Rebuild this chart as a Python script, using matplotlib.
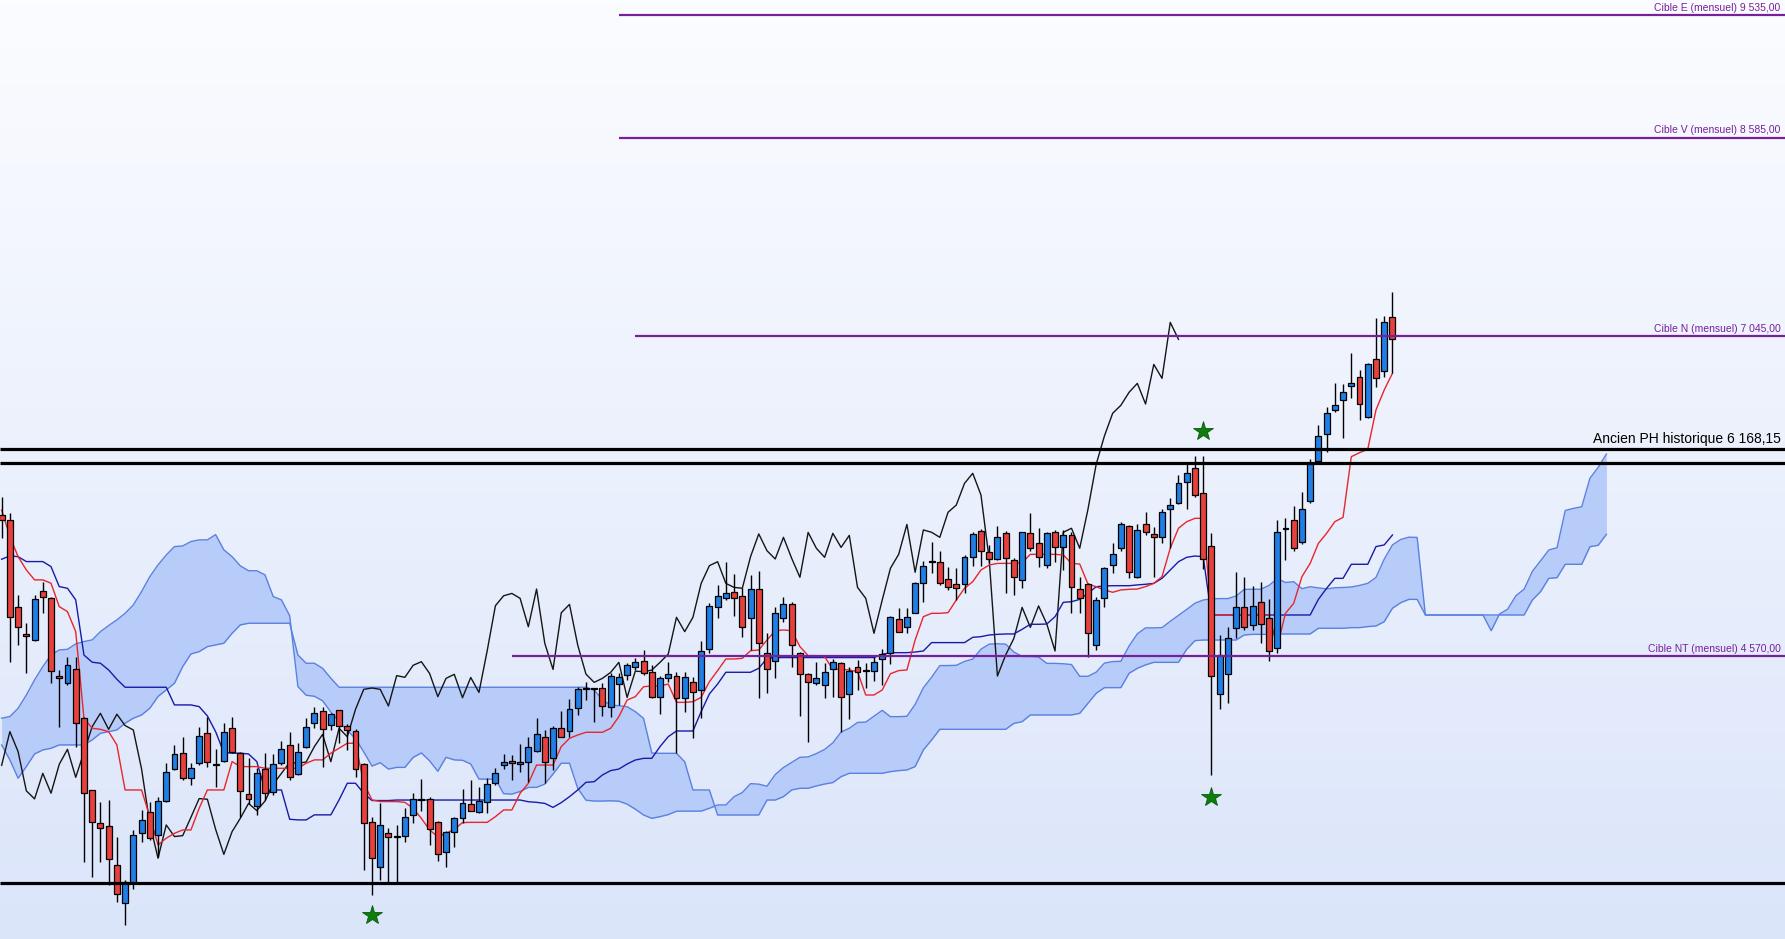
import numpy as np
import matplotlib.pyplot as plt
from matplotlib import font_manager
from matplotlib.colors import LinearSegmentedColormap

# bougies (open, high, low, close), une par periode
opens = [5660, 5622, 4950, 4738, 4692, 5071, 5020, 4415, 4356, 4464,
         4085, 3529, 3276, 3253, 2948, 2651, 2806, 3194, 3356, 3181,
         3444, 3692, 3813, 3620, 3736, 3968, 3728, 3754, 4007, 3819,
         3498, 3405, 3689, 3516, 3736, 3878, 3653, 3865, 4051, 4139,
         4033, 4147, 4028, 3989, 3728, 3284, 2935, 3199, 3168, 3172,
         3332, 3452, 3456, 3278, 3046, 3206, 3309, 3418, 3361, 3433,
         3586, 3720, 3753, 3728, 3743, 3833, 3942, 3774, 4007, 3988,
         4162, 4309, 4316, 4316, 4175, 4350, 4420, 4479, 4530, 4445,
         4246, 4394, 4412, 4239, 4363, 4303, 4618, 4944, 5014, 5065,
         5034, 4859, 5083, 4592, 4528, 4858, 4967, 4592, 4425, 4355,
         4342, 4466, 4510, 4270, 4479, 4453, 4453, 4541, 4593, 4851,
         4794, 4903, 5135, 5293, 5298, 5161, 5123, 5123, 5337, 5536,
         5376, 5319, 5518, 5311, 5156, 5518, 5445, 5272, 5526, 5409,
         5502, 5084, 5125, 4652, 5014, 5272, 5402, 5575, 5177, 5588,
         5510, 5487, 5704, 5750, 5913, 6022, 5828, 5422, 4270, 4428,
         4782, 4944, 4808, 4983, 4859, 4627, 5549, 5621, 5448, 5771,
         6078, 6285, 6474, 6551, 6660, 6732, 6422, 6866, 6776, 7192]
highs = [5802, 5673, 5040, 4821, 5040, 5144, 5027, 4459, 4563, 4563,
         4098, 3529, 3439, 3452, 3168, 2832, 3219, 3374, 3439, 3478,
         3736, 3878, 3937, 3736, 4020, 4098, 3847, 4046, 4098, 3826,
         3775, 3697, 3813, 3808, 3909, 3976, 3891, 4090, 4175, 4175,
         4124, 4150, 4041, 3999, 3736, 3323, 3426, 3232, 3258, 3387,
         3503, 3614, 3472, 3291, 3214, 3322, 3534, 3606, 3555, 3619,
         3697, 3808, 3800, 3885, 3937, 4084, 3994, 4025, 4143, 4231,
         4329, 4368, 4316, 4355, 4433, 4433, 4510, 4549, 4613, 4497,
         4414, 4518, 4440, 4440, 4406, 4685, 4975, 5117, 5292, 5199,
         5091, 5194, 5225, 4742, 4949, 5021, 4988, 4600, 4432, 4523,
         4510, 4541, 4523, 4484, 4536, 4510, 4561, 4618, 4880, 4937,
         4937, 5143, 5303, 5453, 5383, 5259, 5247, 5350, 5531, 5549,
         5427, 5575, 5538, 5329, 5531, 5673, 5562, 5526, 5544, 5544,
         5531, 5177, 5130, 5027, 5259, 5445, 5608, 5582, 5590, 5686,
         5570, 5704, 5789, 5970, 6053, 6117, 6117, 5518, 4730, 4789,
         5221, 5182, 5110, 5143, 5009, 5621, 5634, 5730, 5841, 6094,
         6357, 6494, 6685, 6673, 6913, 6784, 6835, 7184, 7202, 7385]
lows = [5480, 4524, 4653, 4433, 4680, 4903, 4356, 4020, 4343, 3865,
        2974, 2858, 2974, 2793, 2659, 2483, 2760, 3129, 3142, 3013,
        3439, 3684, 3607, 3568, 3723, 3710, 3555, 3749, 3813, 3323,
        3421, 3336, 3452, 3491, 3723, 3607, 3645, 3852, 4007, 3710,
        3994, 3891, 3839, 3633, 2909, 2716, 2832, 2806, 2806, 3128,
        3270, 3369, 3103, 2981, 2935, 3084, 3270, 3369, 3348, 3348,
        3567, 3691, 3606, 3671, 3593, 3821, 3586, 3684, 3942, 3937,
        4110, 4226, 4058, 4102, 4092, 4187, 4381, 4459, 4419, 4239,
        4117, 4368, 3812, 4130, 3934, 4084, 4587, 4864, 5001, 4877,
        4716, 4613, 4239, 4283, 4394, 4833, 4484, 4102, 3903, 4342,
        4239, 4252, 3980, 4076, 4303, 4316, 4375, 4342, 4505, 4756,
        4743, 4898, 4988, 5208, 5117, 5079, 5001, 5058, 5265, 5265,
        5285, 5311, 5058, 5040, 5097, 5383, 5254, 5247, 5298, 5234,
        4903, 4903, 4562, 4614, 4949, 5208, 5383, 5169, 5169, 5505,
        5177, 5446, 5402, 5745, 5704, 5802, 5239, 3645, 4154, 4206,
        4704, 4769, 4769, 4671, 4529, 4593, 5311, 5384, 5435, 5756,
        6066, 6151, 6461, 6254, 6564, 6396, 6414, 6654, 6732, 6763]
closes = [5622, 4872, 4795, 4723, 5009, 5022, 4451, 4400, 4498, 4046,
          3504, 3284, 3232, 2992, 2721, 2819, 3181, 3297, 3155, 3444,
          3666, 3808, 3620, 3697, 3948, 3749, 3720, 3981, 3826, 3522,
          3460, 3658, 3504, 3728, 3844, 3627, 3821, 4020, 4123, 3999,
          4116, 4028, 3994, 3692, 3271, 3000, 3258, 3168, 3175, 3317,
          3462, 3457, 3224, 3030, 3206, 3309, 3425, 3369, 3443, 3573,
          3658, 3743, 3735, 3746, 3865, 3960, 3748, 4007, 3942, 4154,
          4309, 4319, 4309, 4180, 4415, 4402, 4495, 4523, 4432, 4252,
          4394, 4425, 4244, 4401, 4285, 4608, 4957, 5034, 5052, 5014,
          4794, 5086, 4665, 4463, 4902, 4967, 4652, 4427, 4363, 4394,
          4440, 4518, 4246, 4450, 4445, 4458, 4518, 4582, 4867, 4756,
          4867, 5130, 5267, 5298, 5130, 5099, 5092, 5337, 5513, 5383,
          5319, 5487, 5324, 5177, 5525, 5402, 5332, 5518, 5409, 5502,
          5099, 5014, 4743, 5001, 5247, 5355, 5587, 5216, 5544, 5526,
          5487, 5681, 5737, 5905, 5983, 5815, 5316, 4412, 4575, 4704,
          4944, 4789, 4955, 4815, 4606, 5526, 5557, 5402, 5704, 6053,
          6272, 6448, 6510, 6611, 6680, 6520, 6827, 6719, 7153, 7021]

# ichimoku
tenkan = [5699, 5492, 5337, 5234, 5157, 5157, 5131, 4950, 4911, 4756,
          4085, 4007, 3999, 3981, 3878, 3529, 3529, 3529, 3323, 3103,
          3155, 3193, 3219, 3219, 3387, 3529, 3529, 3529, 3749, 3710,
          3710, 3710, 3697, 3697, 3697, 3697, 3697, 3736, 3762, 3762,
          3814, 3852, 3891, 3891, 3581, 3452, 3439, 3439, 3439, 3433,
          3387, 3309, 3219, 3167, 3193, 3224, 3276, 3278, 3278, 3278,
          3322, 3374, 3374, 3503, 3580, 3722, 3722, 3722, 3865, 3929,
          3955, 3976, 3976, 3976, 4007, 4097, 4226, 4252, 4329, 4335,
          4335, 4350, 4208, 4208, 4213, 4247, 4368, 4454, 4544, 4544,
          4549, 4608, 4614, 4691, 4763, 4769, 4763, 4640, 4570, 4570,
          4562, 4464, 4464, 4459, 4446, 4265, 4265, 4304, 4430, 4454,
          4459, 4691, 4872, 4898, 4898, 4903, 5001, 5092, 5143, 5234,
          5272, 5285, 5285, 5285, 5290, 5355, 5355, 5355, 5355, 5350,
          5285, 5280, 5125, 5104, 5079, 5061, 5079, 5084, 5086, 5105,
          5130, 5182, 5402, 5557, 5608, 5634, 5634, 4885, 4885, 4885,
          4885, 4885, 4885, 4885, 4885, 4640, 4898, 4975, 5182, 5285,
          5440, 5518, 5608, 5642, 6112, 6143, 6169, 6474, 6629, 6758]
kijun = [5317, 5343, 5337, 5299, 5299, 5299, 5260, 5105, 5092, 5002,
         4575, 4519, 4511, 4459, 4387, 4325, 4325, 4325, 4325, 4325,
         4325, 4188, 4188, 4188, 4175, 4103, 3981, 3819, 3814, 3814,
         3808, 3749, 3529, 3529, 3529, 3302, 3297, 3297, 3336, 3336,
         3336, 3452, 3581, 3581, 3503, 3447, 3447, 3447, 3451, 3451,
         3451, 3451, 3451, 3451, 3451, 3451, 3451, 3451, 3451, 3451,
         3451, 3451, 3451, 3451, 3438, 3433, 3425, 3394, 3431, 3477,
         3529, 3588, 3593, 3645, 3679, 3691, 3730, 3761, 3774, 3774,
         3865, 3942, 3986, 3986, 3986, 4136, 4273, 4350, 4441, 4441,
         4441, 4441, 4472, 4549, 4555, 4555, 4555, 4555, 4555, 4555,
         4555, 4555, 4555, 4555, 4555, 4555, 4555, 4580, 4593, 4593,
         4593, 4598, 4606, 4671, 4671, 4671, 4671, 4671, 4712, 4717,
         4730, 4735, 4738, 4738, 4774, 4813, 4813, 4815, 4872, 4983,
         4988, 5006, 5053, 5104, 5110, 5112, 5112, 5112, 5118, 5123,
         5130, 5169, 5234, 5298, 5332, 5342, 5337, 4885, 4885, 4885,
         4885, 4885, 4885, 4885, 4885, 4885, 4885, 4885, 4885, 4885,
         5006, 5092, 5169, 5169, 5278, 5278, 5278, 5415, 5428, 5505]
# nuage : 26 periodes de plus que les bougies
span_a = [4085, 4098, 4162, 4265, 4382, 4485, 4575, 4614, 4619, 4661,
          4679, 4692, 4756, 4803, 4847, 4898, 4963, 5066, 5182, 5273,
          5350, 5415, 5420, 5454, 5467, 5467, 5508, 5390, 5337, 5266,
          5228, 5228, 5196, 5028, 5002, 4879, 4330, 4263, 4255, 4220,
          4133, 4060, 3990, 3927, 3824, 3714, 3740, 3691, 3704, 3704,
          3781, 3816, 3755, 3674, 3782, 3762, 3759, 3730, 3613, 3613,
          3613, 3500, 3497, 3517, 3549, 3549, 3575, 3652, 3736, 3736,
          3542, 3450, 3443, 3443, 3445, 3442, 3419, 3380, 3335, 3309,
          3322, 3338, 3364, 3365, 3365, 3365, 3387, 3413, 3413, 3477,
          3509, 3578, 3574, 3558, 3648, 3703, 3742, 3782, 3785, 3811,
          3843, 3894, 3978, 4007, 4052, 4055, 4100, 4146, 4097, 4097,
          4100, 4192, 4321, 4402, 4493, 4493, 4495, 4525, 4543, 4620,
          4659, 4662, 4659, 4598, 4563, 4563, 4559, 4510, 4510, 4507,
          4501, 4410, 4410, 4442, 4512, 4524, 4526, 4645, 4739, 4785,
          4785, 4787, 4836, 4882, 4928, 4976, 5001, 5010, 5012, 5012,
          5032, 5084, 5084, 5085, 5114, 5167, 5137, 5143, 5089, 5104,
          5095, 5087, 5096, 5098, 5102, 5114, 5130, 5176, 5318, 5428,
          5470, 5488, 5486, 4885, 4885, 4885, 4885, 4885, 4885, 4885,
          4885, 4763, 4892, 4930, 5034, 5085, 5223, 5305, 5389, 5406,
          5695, 5711, 5724, 5945, 6029, 6132]
span_b = [3878, 3762, 3620, 3710, 3808, 3839, 3852, 3878, 3878, 3878,
          3878, 3917, 3968, 3981, 3994, 4046, 4085, 4110, 4162, 4253,
          4304, 4356, 4485, 4583, 4601, 4640, 4653, 4666, 4743, 4808,
          4821, 4821, 4821, 4821, 4821, 4821, 4575, 4511, 4511, 4472,
          4395, 4325, 4325, 4325, 4325, 4325, 4325, 4325, 4325, 4325,
          4325, 4325, 4325, 4325, 4325, 4325, 4325, 4325, 4325, 4325,
          4325, 4325, 4325, 4325, 4325, 4325, 4325, 4325, 4325, 4325,
          4325, 4325, 4304, 4226, 4187, 4182, 4174, 4136, 4084, 3815,
          3813, 3813, 3813, 3748, 3529, 3529, 3529, 3335, 3335, 3335,
          3335, 3335, 3335, 3451, 3451, 3477, 3529, 3542, 3542, 3560,
          3575, 3586, 3632, 3658, 3658, 3658, 3658, 3658, 3671, 3679,
          3684, 3710, 3839, 3916, 3999, 3999, 3999, 3999, 3999, 3999,
          3999, 3999, 3999, 4045, 4058, 4110, 4110, 4110, 4110, 4110,
          4110, 4123, 4200, 4278, 4322, 4322, 4322, 4433, 4472, 4498,
          4518, 4518, 4518, 4518, 4619, 4686, 4691, 4691, 4691, 4691,
          4691, 4730, 4735, 4735, 4735, 4738, 4738, 4738, 4738, 4738,
          4782, 4782, 4782, 4782, 4787, 4787, 4795, 4800, 4833, 4937,
          4980, 5006, 5006, 4885, 4885, 4885, 4885, 4885, 4885, 4885,
          4885, 4885, 4885, 4885, 4885, 4885, 5001, 5066, 5169, 5174,
          5278, 5278, 5278, 5414, 5425, 5510]
decalage = 26

# objectifs et niveaux
cibles = [9535, 8585, 7045, 4570]
cibles_debut = [75, 75, 77, 62]
cibles_txt = ["Cible E (mensuel) 9 535,00", "Cible V (mensuel) 8 585,00",
              "Cible N (mensuel) 7 045,00", "Cible NT (mensuel) 4 570,00"]
niveaux = [6168.15, 6060, 2808]
niveau_txt = "Ancien PH historique 6 168,15"
etoiles_x = [45, 146, 147]
etoiles_y = [2560, 6313, 3474]

noms = {f.name for f in font_manager.fontManager.ttflist}
etroit = 'Liberation Sans Narrow' if 'Liberation Sans Narrow' in noms else 'Liberation Sans'

fig = plt.figure(figsize=(17.85, 9.39), dpi=100)
ax = fig.add_axes([0, 0, 1, 1])
x0, x1 = -0.2, 216.7
y0, y1 = 2374, 9651
ax.set_xlim(x0, x1)
ax.set_ylim(y0, y1)
ax.axis('off')

# fond degrade
fond = LinearSegmentedColormap.from_list('fond', ['#dbe5fa', '#fbfcff'])
ax.imshow(np.linspace(0, 1, 200)[::-1].reshape(-1, 1), cmap=fond, aspect='auto',
          extent=[x0, x1, y0, y1], zorder=0)

# nuage
jx = np.arange(len(span_a))
ax.fill_between(jx, span_a, span_b, color='#b8ccf9', lw=0, zorder=1)
ax.plot(jx, span_a, color='#5a80e0', lw=1.0, zorder=2)
ax.plot(jx, span_b, color='#5a80e0', lw=1.0, zorder=2)

o = np.array(opens)
h = np.array(highs)
l = np.array(lows)
c = np.array(closes)
ix = np.arange(len(c))

# chikou, tenkan, kijun
ax.plot(ix[decalage:] - decalage, c[decalage:], color='#151515', lw=1.0, zorder=3)
ax.plot(ix, kijun, color='#1a1aa8', lw=1.0, zorder=3)
ax.plot(ix, tenkan, color='#e8262b', lw=1.0, zorder=3)

# bougies
hausse = c >= o
ax.vlines(ix, l, h, color='black', lw=1.0, zorder=4)
ax.bar(ix, np.maximum(np.abs(c - o), 8), bottom=np.minimum(o, c), width=0.72,
       color=np.where(hausse, '#1f7fe6', '#e8403c'), edgecolor='black',
       linewidth=0.9, zorder=5)

# lignes horizontales
for niv, deb, txt in zip(cibles, cibles_debut, cibles_txt):
    ax.hlines(niv, deb, x1, color='#76209a', lw=1.6, zorder=6)
    ax.annotate(txt, xy=(0.9975, niv), xycoords=('axes fraction', 'data'),
                xytext=(0, 1.5), textcoords='offset points', ha='right', va='bottom',
                color='#76209a', fontsize=7.5, family=etroit, zorder=8)
for niv in niveaux:
    ax.hlines(niv, x0, x1, color='black', lw=2.3, zorder=6)
ax.annotate(niveau_txt, xy=(0.9975, niveaux[0]), xycoords=('axes fraction', 'data'),
            xytext=(0, 2.5), textcoords='offset points', ha='right', va='bottom',
            color='black', fontsize=10, family=etroit, zorder=8)

ax.plot(etoiles_x, etoiles_y, ls='none', marker='*', ms=15, color='#0d7d0d',
        markeredgecolor='#0a5a0a', markeredgewidth=0.6, zorder=7)

fig.savefig('out.png', dpi=100)
